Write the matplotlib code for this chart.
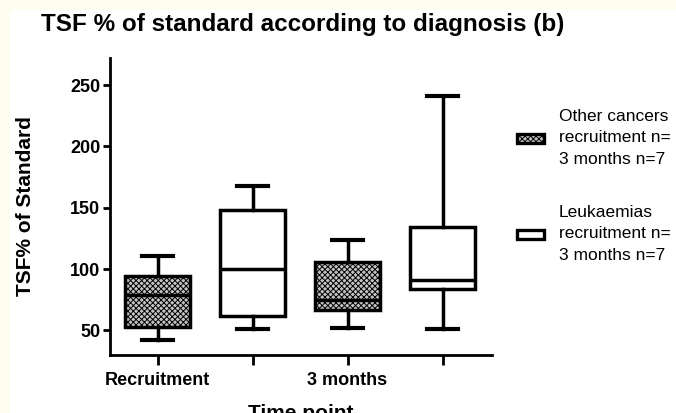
import matplotlib
matplotlib.use("Agg")
import matplotlib.pyplot as plt
from matplotlib.patches import Rectangle

plt.rcParams["font.family"] = ["Liberation Sans", "DejaVu Sans"]
plt.rcParams["hatch.linewidth"] = 0.7

# values (TSF % of standard)
positions = [1, 2, 3, 4]
tick_labels = ["Recruitment", "", "3 months", ""]

other_pos = [1, 3]
other_whislo = [42, 52]
other_q1 = [53, 67]
other_med = [79, 74.5]
other_q3 = [94, 106]
other_whishi = [111, 124]

leuk_pos = [2, 4]
leuk_whislo = [51, 51]
leuk_q1 = [62, 84]
leuk_med = [100, 91]
leuk_q3 = [148, 134]
leuk_whishi = [168, 241]

legend_labels = [
    "Other cancers\nrecruitment n=\n3 months n=7",
    "Leukaemias\nrecruitment n=\n3 months n=7",
]

W, H = 676, 413
fig = plt.figure(figsize=(W / 100, H / 100), dpi=100, facecolor="#fffdf0")
fig.patches.append(
    Rectangle(
        (10 / W, 0), 1, 1 - 10 / H,
        transform=fig.transFigure,
        facecolor="white",
        edgecolor="none",
        zorder=-1,
    )
)

ax = fig.add_axes([110 / W, 58 / H, 382 / W, 297 / H])
ax.set_facecolor("white")


def make_stats(lo, q1, med, q3, hi):
    return [
        dict(whislo=a, q1=b, med=c, q3=d, whishi=e, fliers=[])
        for a, b, c, d, e in zip(lo, q1, med, q3, hi)
    ]


box_style = dict(
    widths=0.68,
    capwidths=0.33,
    patch_artist=True,
    showfliers=False,
    medianprops=dict(color="black", linewidth=2.5),
    whiskerprops=dict(color="black", linewidth=2.5),
    capprops=dict(color="black", linewidth=3.0),
)

ax.bxp(
    make_stats(other_whislo, other_q1, other_med, other_q3, other_whishi),
    positions=other_pos,
    boxprops=dict(facecolor="#c4c4c4", edgecolor="black",
                  hatch="xxxxxx", linewidth=2.5),
    **box_style,
)
ax.bxp(
    make_stats(leuk_whislo, leuk_q1, leuk_med, leuk_q3, leuk_whishi),
    positions=leuk_pos,
    boxprops=dict(facecolor="white", edgecolor="black", linewidth=2.5),
    **box_style,
)

ax.set_xlim(0.5, 4.52)
ax.set_ylim(30, 272)
ax.set_yticks([50, 100, 150, 200, 250])
ax.set_xticks(positions)
ax.set_xticklabels(tick_labels)

for side in ["top", "right"]:
    ax.spines[side].set_visible(False)
for side in ["left", "bottom"]:
    ax.spines[side].set_linewidth(2.0)

ax.tick_params(axis="x", length=7, width=2.0, pad=5, labelsize=13)
ax.tick_params(axis="y", length=5, width=2.0, pad=2, labelsize=13)
for lab in ax.get_xticklabels() + ax.get_yticklabels():
    lab.set_fontweight("bold")

ax.set_ylabel("TSF% of Standard", fontsize=15, fontweight="bold")
ax.yaxis.label.set_va("center")
ax.yaxis.set_label_coords(-0.22, 0.5)

ax.set_xlabel("Time point", fontsize=15, fontweight="bold")
ax.xaxis.set_label_coords(0.5, -0.165)

fig.text(
    303 / W, 1 - 25 / H,
    "TSF % of standard according to diagnosis (b)",
    ha="center", va="center", fontsize=17.5, fontweight="bold",
)

# legend drawn by hand so the key sits on the middle line
legend_y = [138, 234]
legend_face = ["#c4c4c4", "white"]
legend_hatch = ["xxxxxx", None]
for y, label, fc, hatch in zip(legend_y, legend_labels, legend_face, legend_hatch):
    fig.patches.append(
        Rectangle(
            (517 / W, 1 - (y + 4.5) / H), 27 / W, 9 / H,
            transform=fig.transFigure,
            facecolor=fc, edgecolor="black", hatch=hatch, linewidth=2.4,
        )
    )
    fig.text(
        559 / W, 1 - y / H, label,
        ha="left", va="center", fontsize=12.5, linespacing=1.55,
    )

fig.savefig("out.png", dpi=100, facecolor=fig.get_facecolor())
